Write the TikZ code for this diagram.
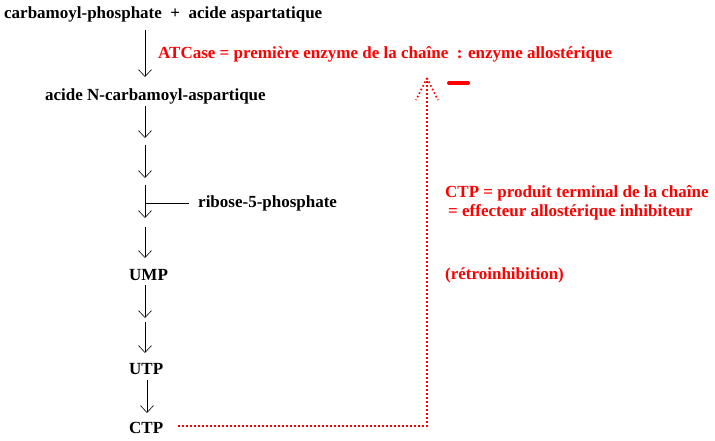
\documentclass[tikz,border=0pt]{standalone}
\usepackage{fontspec}
\setmainfont{Liberation Serif}
\usetikzlibrary{arrows.meta, positioning}

\begin{document}
\begin{tikzpicture}[x=1pt, y=-1pt,
    lbl/.style={font=\fontsize{17}{20}\selectfont\bfseries, inner sep=0pt, anchor=base west},
    rlbl/.style={lbl, text=red},
    stepar/.style={-{Straight Barb[length=7pt,width=13pt]}, line width=0.6pt},
    fb/.style={red, line width=1.6pt, dash pattern=on 1.6pt off 2.4pt}]

    \useasboundingbox (0,0) rectangle (715,440);

    % Column of the pathway
    \def\xCol{145}
    \coordinate (col) at (\xCol,0);
    \coordinate (col2) at (147,0);

    % Substrates and products (placed on their baselines)
    \node[lbl] (carb) at (4,18.5) {carbamoyl-phosphate\ \ +\ \ acide aspartatique};
    \node[lbl] (nca) at (45,100) {acide N-carbamoyl-aspartique};
    \node[lbl] (ribose) at (198,207) {ribose-5-phosphate};
    \node[lbl] (ump) at (129,280) {UMP};
    \node[lbl] (utp) at (129,374) {UTP};
    \node[lbl] (ctp) at (129,433) {CTP};

    % Unnamed steps
    \coordinate (k1) at (\xCol,141.5);
    \coordinate (k2) at (\xCol,181.5);
    \coordinate (k3) at (\xCol,222.5);
    \coordinate (k4) at (\xCol,320);
    \coordinate (br) at (\xCol,203);

    % Arrows of the chain
    \draw[stepar] ([yshift=-11.5pt]carb.base -| col) -- ([yshift=23pt]nca.base -| col);
    \draw[stepar, shorten >=3.5pt] ([yshift=-6pt]nca.base -| col) -- (k1);
    \draw[stepar, shorten <=3.5pt, shorten >=3.5pt] (k1) -- (k2);
    \draw[stepar, shorten <=3.5pt, shorten >=4.5pt] (k2) -- (k3);
    \draw[stepar, shorten <=4.5pt] (k3) -- ([yshift=22pt]ump.base -| col);
    \draw[line width=0.6pt] ([xshift=-9pt]ribose.west |- br) -- (br);
    \draw[stepar, shorten >=2pt] ([yshift=-5pt]ump.base -| col) -- (k4);
    \draw[stepar, shorten <=2pt] (k4) -- ([yshift=21pt]utp.base -| col);
    \draw[stepar] ([yshift=-6pt]utp.base -| col2) -- ([yshift=20pt]ctp.base -| col2);

    % Feedback inhibition
    \node[rlbl] (atcase) at (158,58) {ATCase = première enzyme de la chaîne\ \ : enzyme allostérique};
    \node[rlbl] (term) at (445,197) {CTP = produit terminal de la chaîne};
    \node[rlbl] (eff) at (448,216) {= effecteur allostérique inhibiteur};
    \node[rlbl] (retro) at (445,279) {(rétroinhibition)};

    \coordinate (turn) at (427,426);
    \coordinate (atc) at (427,78);
    \draw[fb] ([xshift=15pt, yshift=7pt]ctp.base east) -- (turn) -- (atc);
    \draw[fb] (atc) -- ++(-11,22);
    \draw[fb] (atc) -- ++(11,22);
    \draw[red, line width=4pt, line cap=round] (449,83) -- (468,83);
\end{tikzpicture}
\end{document}
